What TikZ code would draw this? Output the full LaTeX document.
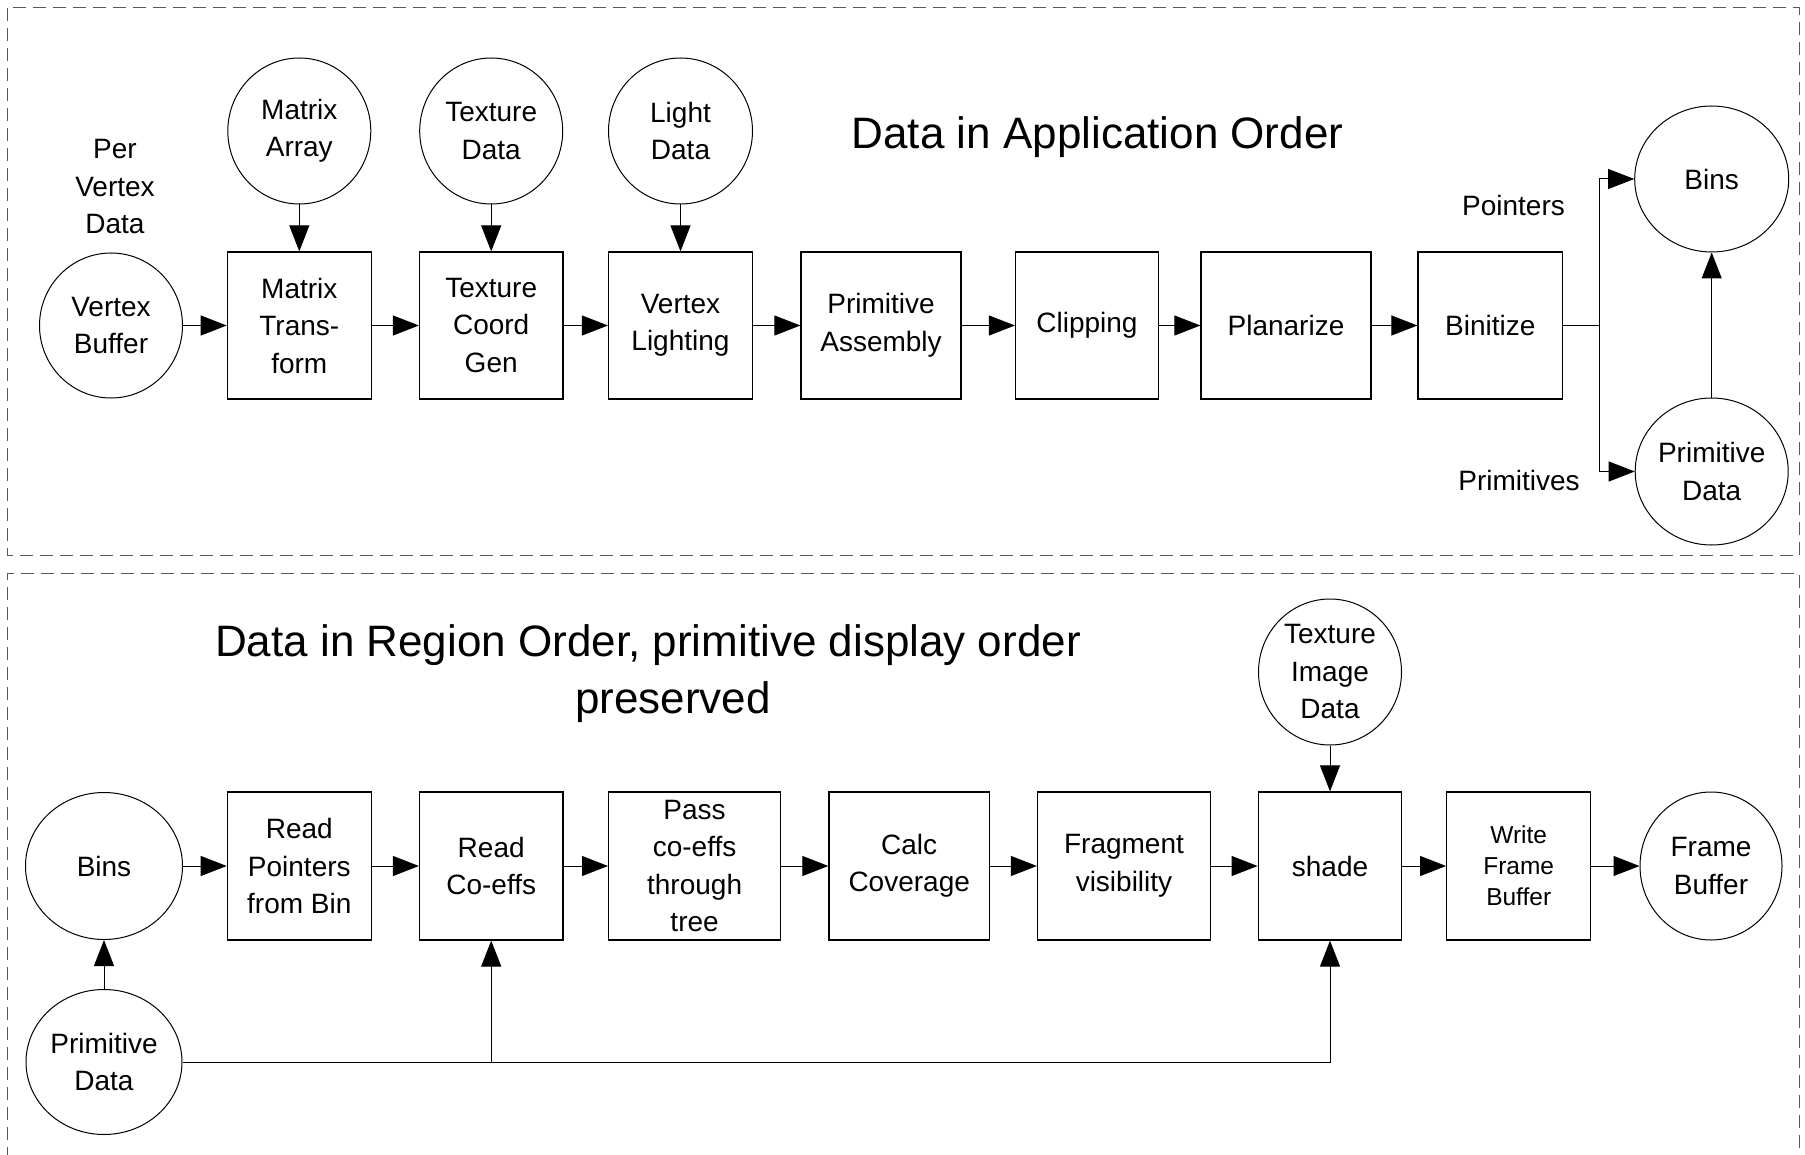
\documentclass[tikz,border=0pt]{standalone}
\usepackage{fontspec}
\setmainfont{Liberation Sans}
\usetikzlibrary{shapes.geometric,arrows.meta}

\begin{document}
\begin{tikzpicture}[x=0.5pt,y=-0.5pt,
  box/.style={draw, line width=0.6pt, rectangle, inner sep=0pt, align=center,
              minimum height=73.5pt, font=\fontsize{14pt}{18.75pt}\selectfont},
  circ/.style={draw, line width=0.5pt, ellipse, inner sep=0pt, align=center,
              font=\fontsize{14pt}{18.75pt}\selectfont},
  lbl/.style={align=center, inner sep=0pt, font=\fontsize{14pt}{18.75pt}\selectfont},
  ttl/.style={inner sep=0pt, anchor=base, font=\fontsize{22pt}{28.5pt}\selectfont},
  frame/.style={draw=black!65, line width=0.5pt, dash pattern=on 6.5pt off 3.5pt},
  arr/.style={draw, line width=0.5pt, -{Triangle[length=13pt,width=10pt]}},
  ln/.style={draw, line width=0.5pt}]

\useasboundingbox (0,0) rectangle (1805,1155);

% frames
\draw[frame] (7,8) rectangle (1799,555.5);
\draw[frame] (7,1160) -- (7,573.5) -- (1799,573.5) -- (1799,1160);

% titles
\node[ttl] (t1) at (1097.5,149) {Data in Application Order};
\node[ttl] (t2a) at (648,656.8) {Data in Region Order, primitive display order};
\node[ttl] (t2b) at (673,713.7) {preserved};

% ---------- top row ----------
\node[circ, minimum width=71.5pt, minimum height=72.5pt] (vb) at (111,325.5) {Vertex\\Buffer};
\node[box, minimum width=72pt] (mt) at (299.3,325.5) {Matrix\\Trans-\\form};
\node[box, minimum width=71.7pt] (tcg) at (491.2,325.5) {Texture\\Coord\\Gen};
\node[box, minimum width=72pt] (vl) at (680.5,325.5) {Vertex\\Lighting};
\node[box, minimum width=80pt] (pa) at (881,325.5) {Primitive\\Assembly};
\node[box, minimum width=71.5pt] (clip) at (1087,325.5) {Clipping};
\node[box, minimum width=85pt] (plan) at (1286,325.5) {Planarize};
\node[box, minimum width=72.3pt] (binit) at (1490.3,325.5) {Binitize};

\node[circ, minimum width=71.5pt, minimum height=73pt] (ma) at (299.3,131) {Matrix\\Array};
\node[circ, minimum width=71.5pt, minimum height=73pt] (td) at (491.2,131) {Texture\\Data};
\node[circ, minimum width=72pt, minimum height=73pt] (ld) at (680.5,131) {Light\\Data};

\node[circ, minimum width=77pt, minimum height=73pt] (binsT) at (1711.7,179) {Bins};
\node[circ, minimum width=76.5pt, minimum height=73.5pt] (primT) at (1711.7,471.5) {Primitive\\Data};

\node[lbl] (pvd) at (115,187) {Per\\Vertex\\Data};
\node[lbl] (ptr) at (1513.5,205) {Pointers};
\node[lbl] (prims) at (1519,480) {Primitives};

\coordinate (jn) at (1599.5,325.5);

\draw[arr] (vb.east) -- (mt.west);
\draw[arr] (mt.east) -- (tcg.west);
\draw[arr] (tcg.east) -- (vl.west);
\draw[arr] (vl.east) -- (pa.west);
\draw[arr] (pa.east) -- (clip.west);
\draw[arr] (clip.east) -- (plan.west);
\draw[arr] (plan.east) -- (binit.west);
\draw[arr] (ma.south) -- (mt.north);
\draw[arr] (td.south) -- (tcg.north);
\draw[arr] (ld.south) -- (vl.north);
\draw[ln] (binit.east) -- (jn);
\draw[arr] (jn) |- (binsT.west);
\draw[arr] (jn) |- (primT.west);
\draw[arr] (primT.north) -- (binsT.south);

% ---------- bottom row ----------
\node[circ, minimum width=78.5pt, minimum height=73.5pt] (binsB) at (104,866) {Bins};
\node[box, minimum width=72pt, minimum height=74pt] (rp) at (299.3,866) {Read\\Pointers\\from Bin};
\node[box, minimum width=71.7pt, minimum height=74pt] (rc) at (491.2,866) {Read\\Co-effs};
\node[box, minimum width=86pt, minimum height=74pt] (pass) at (694.6,866) {Pass\\co-effs\\through\\tree};
\node[box, minimum width=80.25pt, minimum height=74pt] (calc) at (909.2,866) {Calc\\Coverage};
\node[box, minimum width=86.5pt, minimum height=74pt] (frag) at (1124,866) {Fragment\\visibility};
\node[box, minimum width=71.8pt, minimum height=74pt] (shade) at (1330,866) {shade};
\node[box, minimum width=72pt, minimum height=74pt, font=\fontsize{12.25pt}{15.5pt}\selectfont] (wfb) at (1518.7,866) {Write\\Frame\\Buffer};
\node[circ, minimum width=71pt, minimum height=74pt] (fb) at (1711,866) {Frame\\Buffer};

\node[circ, minimum width=71.5pt, minimum height=73pt] (tid) at (1330,672) {Texture\\Image\\Data};
\node[circ, minimum width=78pt, minimum height=72.5pt] (primB) at (104,1062) {Primitive\\Data};

\draw[arr] (binsB.east) -- (rp.west);
\draw[arr] (rp.east) -- (rc.west);
\draw[arr] (rc.east) -- (pass.west);
\draw[arr] (pass.east) -- (calc.west);
\draw[arr] (calc.east) -- (frag.west);
\draw[arr] (frag.east) -- (shade.west);
\draw[arr] (shade.east) -- (wfb.west);
\draw[arr] (wfb.east) -- (fb.west);
\draw[arr] (tid.south) -- (shade.north);
\draw[arr] (primB.north) -- (binsB.south);
\draw[arr] (primB.east) -| (shade.south);
\draw[arr] (rc.south |- primB.east) -- (rc.south);

\end{tikzpicture}
\end{document}
